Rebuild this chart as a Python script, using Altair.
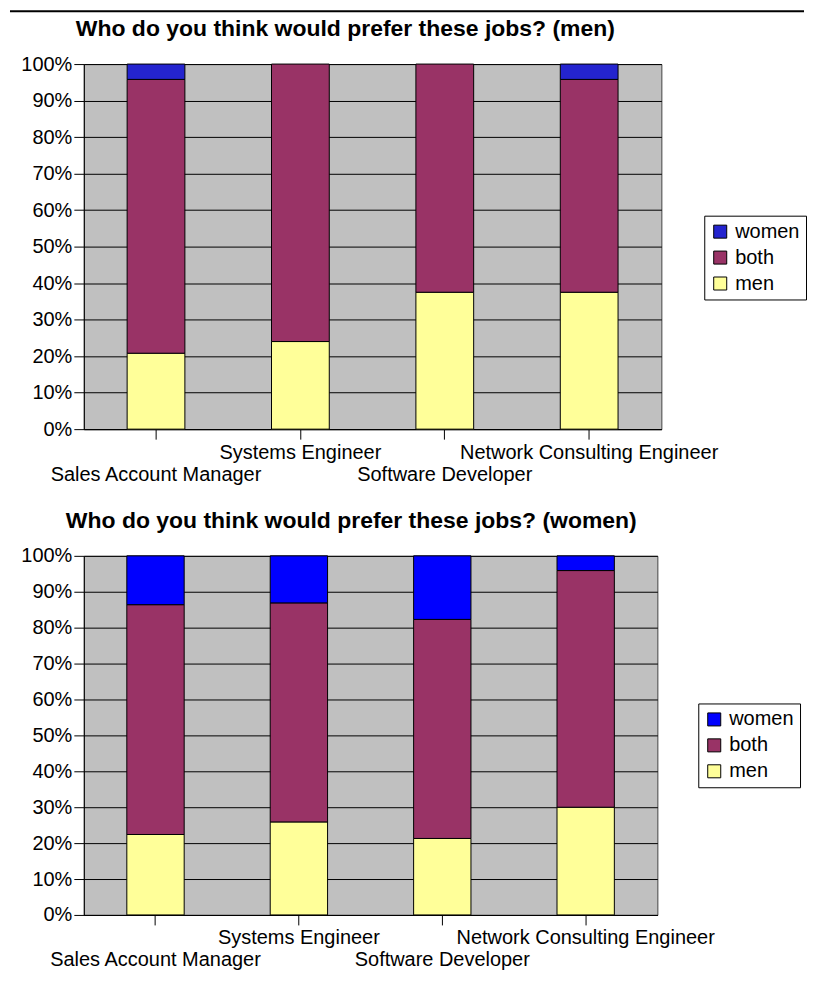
import altair as alt
import pandas as pd

jobs = ["Sales Account Manager", "Systems Engineer", "Software Developer", "Network Consulting Engineer"]
groups = ["women", "both", "men"]          # legend order (top to bottom)
stack_rank = {"men": 0, "both": 1, "women": 2}  # bottom to top in bars

# Chart 1: answers from men (percent)
men_resp_men = [20.8, 24.0, 37.5, 37.5]
men_resp_both = [75.0, 76.0, 62.5, 58.3]
men_resp_women = [4.2, 0.0, 0.0, 4.2]

# Chart 2: answers from women (percent)
women_resp_men = [22.4, 25.9, 21.3, 30.0]
women_resp_both = [64.0, 61.0, 61.0, 65.9]
women_resp_women = [13.6, 13.1, 17.7, 4.1]

title_men = "Who do you think would prefer these jobs?  (men)"
title_women = "Who do you think would prefer these  jobs? (women)"

FONT = "Liberation Sans"
FS = 20


def build_df(m, b, w):
    rows = []
    for i, j in enumerate(jobs):
        for g, vals in (("men", m), ("both", b), ("women", w)):
            if vals[i] > 0:
                rows.append({"job": j, "group": g, "value": vals[i], "ord": stack_rank[g]})
    return pd.DataFrame(rows)


second_row = jobs[0::2]
label_expr = "(" + " || ".join("datum.label == '%s'" % s for s in second_row) + ") ? ['', datum.label] : datum.label"


def make(df, title, women_color, w, h, lx, ly, tdx, toffset, topline=False):
    color_scale = alt.Scale(domain=groups, range=[women_color, "#993366", "#FFFF99"])
    bars = alt.Chart(df).mark_bar(stroke="black", strokeWidth=1).encode(
        x=alt.X("job:N", sort=jobs, title=None,
                scale=alt.Scale(paddingInner=0.6, paddingOuter=0.3),
                axis=alt.Axis(labelAngle=0, labelOverlap=False, labelLimit=0, grid=False,
                              labelExpr=label_expr, tickSize=10, labelPadding=3,
                              labelLineHeight=22, labelFontSize=FS, labelFont=FONT,
                              labelColor="black", domainColor="black", tickColor="black")),
        y=alt.Y("value:Q", stack="normalize", title=None,
                scale=alt.Scale(domain=[0, 1]),
                axis=alt.Axis(format=".0%", values=[i / 10 for i in range(11)], grid=True,
                              gridColor="black", gridOpacity=1, tickSize=10, labelPadding=2,
                              labelFontSize=FS, labelFont=FONT, labelColor="black",
                              domainColor="black", tickColor="black")),
        color=alt.Color("group:N", scale=color_scale, title=None,
                        legend=alt.Legend(orient="none", legendX=lx, legendY=ly,
                                          strokeColor="black", fillColor="white", padding=6,
                                          symbolType="square", symbolSize=170,
                                          symbolStrokeColor="black", symbolStrokeWidth=1,
                                          labelFontSize=FS, labelFont=FONT, labelColor="black",
                                          rowPadding=6, labelOffset=5)),
        order=alt.Order("ord:Q", sort="ascending"),
    )
    layers = [bars]
    if topline:
        rule = alt.Chart(alt.Data(values=[{"a": 1}])).mark_rule(color="black", strokeWidth=2).encode(
            x=alt.value(-74), x2=alt.value(722), y=alt.value(-53))
        layers.append(rule)
    return alt.layer(*layers).properties(
        width=w, height=h,
        title=alt.TitleParams(title, anchor="start", frame="group", dx=tdx, fontSize=23,
                              fontWeight="bold", font=FONT, color="black", offset=toffset),
    )


top = make(build_df(men_resp_men, men_resp_both, men_resp_women), title_men, "#2424CF",
           579, 366, 622, 152, -8, -31, topline=True)
bottom = make(build_df(women_resp_men, women_resp_both, women_resp_women), title_women, "#0000FF",
              575, 360, 616, 148, -18, 13)

chart = alt.vconcat(top, bottom, spacing=24).resolve_scale(
    color="independent", x="independent", y="independent"
).resolve_legend(color="independent").configure_view(
    fill="#C0C0C0", stroke="#444444"
).properties(padding={"left": 0, "top": 0, "right": 0, "bottom": 0})

chart.save("out.html", embed_options={"renderer": "svg", "actions": False})
